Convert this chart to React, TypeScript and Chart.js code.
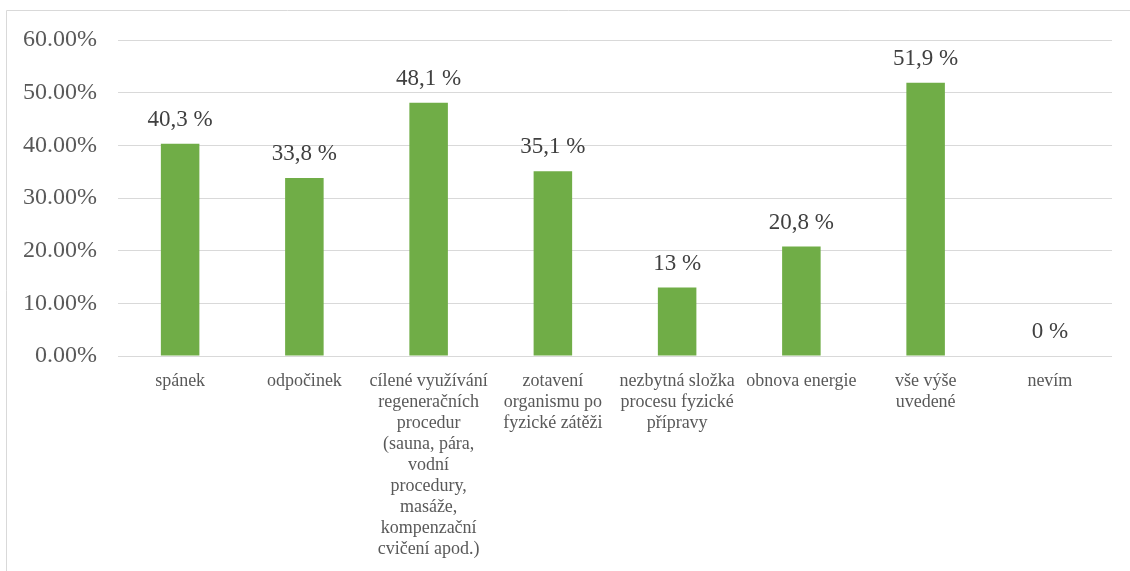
import React, { useEffect, useRef } from "react";
import { Chart, registerables } from "chart.js";

Chart.register(...registerables);

const categories: (string | string[])[] = [
  "spánek",
  "odpočinek",
  ["cílené využívání", "regeneračních", "procedur", "(sauna, pára,", "vodní", "procedury,", "masáže,", "kompenzační", "cvičení apod.)"],
  ["zotavení", "organismu po", "fyzické zátěži"],
  ["nezbytná složka", "procesu fyzické", "přípravy"],
  "obnova energie",
  ["vše výše", "uvedené"],
  "nevím",
];

const values: number[] = [40.3, 33.8, 48.1, 35.1, 13, 20.8, 51.9, 0];

const yTicks: number[] = [0, 10, 20, 30, 40, 50, 60];

const FONT = '"Liberation Serif", "Times New Roman", serif';

Chart.defaults.font.family = FONT;

const framePlugin = {
  id: "frame",
  beforeDraw(chart: any) {
    const ctx = chart.ctx;
    ctx.save();
    ctx.strokeStyle = "#D9D9D9";
    ctx.lineWidth = 1;
    ctx.beginPath();
    ctx.moveTo(6.5, 571);
    ctx.lineTo(6.5, 10.5);
    ctx.lineTo(1130, 10.5);
    ctx.stroke();
    ctx.restore();
  },
};

const labelPlugin = {
  id: "barLabels",
  afterDatasetsDraw(chart: any) {
    const ctx = chart.ctx;
    const meta = chart.getDatasetMeta(0);
    ctx.save();
    ctx.font = `23px ${FONT}`;
    ctx.fillStyle = "#404040";
    ctx.textAlign = "center";
    ctx.textBaseline = "middle";
    meta.data.forEach((bar: any, i: number) => {
      const v = values[i];
      const txt = String(v).replace(".", ",") + " %";
      ctx.fillText(txt, bar.x, bar.y - 24);
    });
    ctx.restore();
  },
};

export default function App() {
  const ref = useRef<HTMLCanvasElement>(null);
  useEffect(() => {
    if (!ref.current) return;
    const chart = new Chart(ref.current, {
      type: "bar",
      data: {
        labels: categories,
        datasets: [
          {
            data: values,
            backgroundColor: "#70AD47",
            borderWidth: 0,
            barPercentage: 0.31,
            categoryPercentage: 1,
          },
        ],
      },
      options: {
        responsive: false,
        animation: false,
        devicePixelRatio: 1,
        layout: { padding: { top: 40, right: 18, left: 0, bottom: 0 } },
        plugins: {
          legend: { display: false },
          tooltip: { enabled: false },
        },
        scales: {
          x: {
            grid: { display: false, drawTicks: false },
            border: { display: false },
            ticks: {
              color: "#595959",
              font: { family: FONT, size: 18, lineHeight: 1.1667 },
              padding: 15,
              maxRotation: 0,
              autoSkip: false,
            },
            afterFit: (s: any) => {
              s.height = 215;
            },
          },
          y: {
            min: 0,
            max: 60,
            afterBuildTicks: (s: any) => {
              s.ticks = yTicks.map((v) => ({ value: v }));
            },
            grid: { color: "#D9D9D9", lineWidth: 1, drawTicks: false },
            border: { display: false },
            ticks: {
              color: "#595959",
              font: { family: FONT, size: 24 },
              padding: 21,
              callback: (v: any) => Number(v).toFixed(2) + "%",
            },
            afterFit: (s: any) => {
              s.width = 118;
            },
          },
        },
      },
      plugins: [framePlugin, labelPlugin],
    });
    return () => chart.destroy();
  }, []);
  return (
    <canvas
      ref={ref}
      width={1130}
      height={571}
      style={{ position: "fixed", left: 0, top: 0, display: "block" }}
    />
  );
}
